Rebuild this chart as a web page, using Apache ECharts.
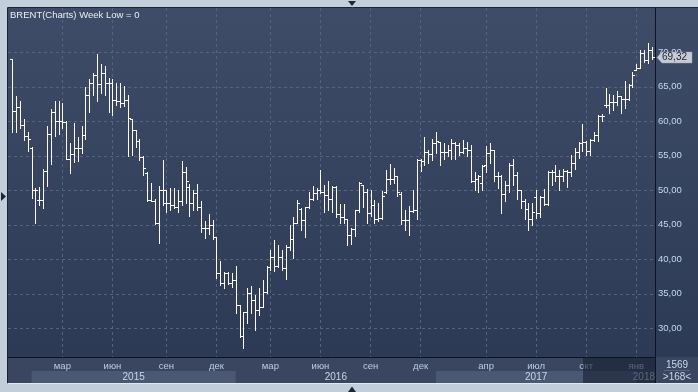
<!DOCTYPE html>
<html><head><meta charset="utf-8">
<script src="https://cdn.jsdelivr.net/npm/echarts@6/dist/echarts.min.js"></script>
<style>html,body{margin:0;padding:0;background:#c3cedb;}#c{width:698px;height:392px;}</style>
</head><body><div id="c"></div>
<script>
const title = 'BRENT(Charts) Week Low = 0';
const weeks = ['2014-12-08','2014-12-15','2014-12-22','2014-12-29','2015-01-01','2015-01-05','2015-01-12','2015-01-19','2015-01-26','2015-02-02','2015-02-09','2015-02-16','2015-02-23','2015-03-02','2015-03-09','2015-03-16','2015-03-23','2015-03-30','2015-04-06','2015-04-13','2015-04-20','2015-04-27','2015-05-04','2015-05-11','2015-05-18','2015-05-25','2015-06-01','2015-06-08','2015-06-15','2015-06-22','2015-06-29','2015-07-06','2015-07-13','2015-07-20','2015-07-27','2015-08-03','2015-08-10','2015-08-17','2015-08-24','2015-08-31','2015-09-07','2015-09-14','2015-09-21','2015-09-28','2015-10-05','2015-10-12','2015-10-19','2015-10-26','2015-11-02','2015-11-09','2015-11-16','2015-11-23','2015-11-30','2015-12-07','2015-12-14','2015-12-21','2015-12-28','2016-01-01','2016-01-04','2016-01-11','2016-01-18','2016-01-25','2016-02-01','2016-02-08','2016-02-15','2016-02-22','2016-02-29','2016-03-07','2016-03-14','2016-03-21','2016-03-28','2016-04-04','2016-04-11','2016-04-18','2016-04-25','2016-05-02','2016-05-09','2016-05-16','2016-05-23','2016-05-30','2016-06-06','2016-06-13','2016-06-20','2016-06-27','2016-07-04','2016-07-11','2016-07-18','2016-07-25','2016-08-01','2016-08-08','2016-08-15','2016-08-22','2016-08-29','2016-09-05','2016-09-12','2016-09-19','2016-09-26','2016-10-03','2016-10-10','2016-10-17','2016-10-24','2016-10-31','2016-11-07','2016-11-14','2016-11-21','2016-11-28','2016-12-05','2016-12-12','2016-12-19','2016-12-26','2017-01-02','2017-01-09','2017-01-16','2017-01-23','2017-01-30','2017-02-06','2017-02-13','2017-02-20','2017-02-27','2017-03-06','2017-03-13','2017-03-20','2017-03-27','2017-04-03','2017-04-10','2017-04-17','2017-04-24','2017-05-01','2017-05-08','2017-05-15','2017-05-22','2017-05-29','2017-06-05','2017-06-12','2017-06-19','2017-06-26','2017-07-03','2017-07-10','2017-07-17','2017-07-24','2017-07-31','2017-08-07','2017-08-14','2017-08-21','2017-08-28','2017-09-04','2017-09-11','2017-09-18','2017-09-25','2017-10-02','2017-10-09','2017-10-16','2017-10-23','2017-10-30','2017-11-06','2017-11-13','2017-11-20','2017-11-27','2017-12-04','2017-12-11','2017-12-18','2017-12-25','2018-01-01','2018-01-08','2018-01-15','2018-01-22','2018-01-29'];
const opens = [69.0,61.5,62.1,59.5,57.9,56.2,50.0,48.6,48.6,52.8,58.1,61.4,60.0,60.0,59.9,54.6,55.2,56.1,56.1,58.0,63.8,65.5,66.7,65.4,67.0,65.5,65.6,63.1,62.9,62.7,63.1,60.4,58.7,57.2,54.8,52.5,48.6,48.5,45.3,50.0,48.1,48.1,47.9,47.6,48.5,52.6,50.5,48.1,49.6,47.6,44.6,44.5,45.0,43.2,38.0,36.5,38.0,36.5,37.0,33.4,28.9,32.3,35.1,34.1,32.6,33.1,35.3,38.9,40.4,39.0,40.4,38.7,41.8,42.9,45.2,47.3,45.7,47.6,48.8,49.6,50.0,49.8,49.3,48.8,50.5,46.6,46.2,45.9,43.5,44.4,47.2,50.7,49.7,46.7,47.9,45.9,46.0,49.7,51.7,51.7,52.0,49.5,45.7,45.7,47.0,47.2,54.4,54.3,55.5,55.3,56.8,57.05,55.6,55.6,55.9,56.8,56.6,55.6,56.1,55.9,51.3,51.7,51.1,53.7,55.4,55.8,52.0,52.0,49.4,50.8,53.7,52.2,50.0,48.4,47.3,45.9,49.0,46.7,49.0,48.0,52.7,52.7,52.0,52.0,52.8,52.7,53.9,55.5,56.8,57.0,55.7,57.3,58.0,60.7,62.3,62.4,62.85,62.85,63.6,63.3,63.3,65.3,67.4,67.7,69.85,68.9,70.3];
const highs = [69.1,63.7,62.9,60.4,58.5,56.3,50.4,50.5,53.1,59.3,61.8,63.0,62.9,62.6,60.0,56.8,59.7,57.7,59.3,65.0,66.1,67.0,69.8,68.3,68.0,66.3,66.1,65.6,65.5,65.1,63.8,60.4,58.8,57.5,55.0,52.6,51.1,48.8,50.6,54.4,50.0,50.3,50.3,50.0,54.2,53.4,50.9,50.0,50.9,48.5,45.6,46.5,45.7,43.2,39.7,38.1,38.1,38.0,39.1,33.4,32.4,35.8,36.1,34.8,35.8,37.0,39.1,41.4,42.8,42.1,41.4,42.1,45.0,46.2,48.6,47.4,47.6,49.8,50.6,50.3,52.9,50.8,51.4,50.6,50.6,48.0,48.0,45.9,44.5,47.2,51.2,50.8,50.2,50.1,48.6,48.1,49.9,52.9,53.8,53.2,52.1,49.7,47.1,47.7,50.1,54.5,54.5,57.7,55.9,57.4,58.45,57.05,56.9,56.6,57.4,57.05,56.9,57.3,57.05,56.6,52.7,52.2,53.6,56.4,56.8,55.8,52.7,52.2,51.3,53.9,54.6,52.7,50.0,48.8,48.1,48.1,50.1,49.2,50.2,52.8,52.9,53.7,52.9,53.1,52.9,55.1,56.1,57.0,59.6,57.1,57.5,58.5,60.9,61.0,64.8,63.9,63.8,64.4,63.6,65.8,65.4,67.2,68.3,70.3,70.3,71.3,70.8];
const lows = [58.5,58.4,59.1,57.3,55.7,48.9,45.2,47.8,47.5,50.6,53.8,57.8,58.1,59.1,54.5,52.5,54.1,54.2,55.4,57.5,61.4,63.8,62.9,64.1,63.8,61.3,60.9,62.4,62.1,62.2,55.0,55.1,56.3,54.4,52.2,48.4,48.4,45.1,42.3,47.9,46.8,47.1,47.4,46.9,47.9,48.2,46.3,47.1,47.1,43.9,43.1,43.7,43.0,37.3,36.3,35.9,36.4,36.0,32.2,28.8,27.1,30.7,32.2,29.8,31.9,33.1,35.1,38.5,38.3,38.9,38.5,37.2,41.4,40.2,45.2,44.3,43.3,47.4,48.6,48.7,49.6,46.9,47.2,46.9,46.2,45.2,45.2,42.1,42.2,43.4,46.9,47.6,45.2,46.3,45.2,45.5,45.9,49.6,50.9,51.1,49.2,45.1,44.3,43.5,46.8,45.9,52.85,53.7,53.9,54.4,55.4,53.7,54.6,54.9,54.6,54.5,55.1,55.4,55.0,51.25,50.0,49.8,50.0,52.7,53.9,51.3,50.3,46.7,48.4,49.8,50.8,48.8,47.4,45.9,44.3,45.0,46.0,46.2,47.8,47.9,50.8,51.3,50.0,51.3,50.5,52.0,53.1,54.7,55.7,55.1,55.1,57.2,57.1,60.0,62.0,61.15,61.6,62.3,61.2,61.9,63.1,65.0,67.4,67.7,68.6,68.4,69.1];
const closes = [61.5,62.1,59.5,57.9,57.5,50.0,50.0,48.6,52.8,58.1,61.4,60.0,60.0,59.9,54.6,55.2,56.1,56.1,58.0,63.8,65.5,66.7,65.4,67.0,65.5,65.6,63.1,62.9,62.7,63.1,60.5,58.7,57.2,54.8,53.3,48.6,48.5,45.3,50.0,50.0,48.1,47.9,47.6,48.5,52.6,51.3,48.1,49.6,47.6,44.6,44.5,45.0,43.2,38.0,36.5,38.0,36.5,37.0,33.4,28.9,32.3,35.1,34.1,32.6,33.1,35.3,38.9,40.4,39.0,40.4,38.7,41.8,42.9,45.2,48.1,45.7,47.6,48.8,49.6,50.0,49.8,49.3,48.8,50.5,46.6,46.2,45.9,43.5,44.4,47.2,51.1,49.7,46.7,47.9,45.9,46.0,49.2,51.7,51.7,52.0,49.7,45.7,45.7,47.0,47.2,54.4,54.3,55.5,55.3,56.8,57.2,55.6,55.6,55.9,56.8,56.6,55.6,56.1,55.9,51.3,51.7,52.0,53.5,55.4,55.8,52.0,52.0,49.4,50.8,53.7,52.2,50.0,48.4,47.3,45.9,46.9,46.7,49.0,48.0,52.7,52.7,52.0,52.0,52.8,52.7,53.9,55.5,56.8,57.0,55.7,57.3,58.0,60.7,60.7,62.4,62.85,62.85,63.6,63.3,63.3,65.3,66.7,67.7,69.85,68.9,70.3,69.32];
const monthTickWeeks = ['2015-03-02','2015-06-01','2015-09-07','2015-12-07','2016-03-07','2016-06-06','2016-09-05','2016-12-05','2017-04-03','2017-07-03','2017-10-02','2018-01-01'];
const monthTickLabels = ['мар','июн','сен','дек','мар','июн','сен','дек','апр','июл','окт','янв'];
const yearStartWeeks = ['2015-01-05','2016-01-04','2017-01-02','2018-01-01'];
const yearLabels = ['2015','2016','2017','2018'];
const priceTicks = [30,35,40,45,50,55,60,65,70];
const lastPrice = 69.32;
const barTotal = '1569';
const barVisible = '>168<';

const monthTickIdx = monthTickWeeks.map(w => weeks.indexOf(w));
const data = weeks.map((w, i) => [i, opens[i], highs[i], lows[i], closes[i]]);
const FONT = 'Liberation Sans';
const fmtPrice = v => v.toFixed(2).replace('.', ',');

const chart = echarts.init(document.getElementById('c'), null, {renderer: 'canvas'});
const gridLine = {show: true, lineStyle: {color: '#55637e', width: 1, type: [3, 3]}};

chart.setOption({
  animation: false,
  backgroundColor: '#c3cedb',
  grid: {left: 8, top: 8, width: 647, height: 349, containLabel: false},
  xAxis: {
    type: 'value', min: -1.115, max: 166.85,
    axisLine: {show: false},
    axisTick: {show: false, customValues: monthTickIdx},
    axisLabel: {
      customValues: monthTickIdx, margin: 4, color: '#bccde6', fontSize: 9.5, fontFamily: FONT,
      formatter: v => monthTickLabels[monthTickIdx.indexOf(v)] || ''
    },
    splitLine: gridLine
  },
  yAxis: {
    type: 'value', position: 'right', min: 25.84, max: 76.42, scale: true,
    axisLine: {show: false},
    axisTick: {show: false, customValues: priceTicks},
    axisLabel: {customValues: priceTicks, margin: 3, color: '#c4d8f2', fontSize: 9.5, fontFamily: FONT,
      formatter: v => fmtPrice(v)},
    splitLine: gridLine
  },
  series: [{
    type: 'custom', clip: true, silent: true,
    encode: {x: 0, y: [1, 2, 3, 4]},
    data: data,
    renderItem: function (params, api) {
      const i = api.value(0);
      const pO = api.coord([i, api.value(1)]);
      const pH = api.coord([i, api.value(2)]);
      const pL = api.coord([i, api.value(3)]);
      const pC = api.coord([i, api.value(4)]);
      const x = Math.round(pH[0]) + 0.5;
      const st = {stroke: '#fffaf6', lineWidth: 1};
      const yo = Math.round(pO[1]) + 0.5, yc = Math.round(pC[1]) + 0.5;
      return {type: 'group', children: [
        {type: 'line', shape: {x1: x, y1: Math.round(pH[1]), x2: x, y2: Math.round(pL[1]) + 1}, style: st},
        {type: 'line', shape: {x1: x - 2.5, y1: yo, x2: x - 0.5, y2: yo}, style: st},
        {type: 'line', shape: {x1: x + 0.5, y1: yc, x2: x + 2.5, y2: yc}, style: st}
      ]};
    }
  }]
});

const px = i => chart.convertToPixel({xAxisIndex: 0}, i);
const py = v => chart.convertToPixel({yAxisIndex: 0}, v);
const yearX = yearStartWeeks.map(w => px(weeks.indexOf(w)));
const g = [];
const back = {z: -10, silent: true};
const front = {z: 100, silent: true};
// plot + right panel background
g.push(Object.assign({type: 'rect', shape: {x: 8, y: 8, width: 690, height: 349},
  style: {fill: new echarts.graphic.LinearGradient(0, 0, 0, 1, [{offset: 0, color: '#3f4c67'}, {offset: 1, color: '#2d3a56'}])}}, back));
// axis area
g.push(Object.assign({type: 'rect', shape: {x: 8, y: 357, width: 690, height: 26}, style: {fill: '#3a4660'}}, back));
// year bands (alternating)
for (let k = 0; k < yearX.length; k++) {
  const x0 = yearX[k], x1 = k + 1 < yearX.length ? yearX[k + 1] : 655;
  if (k % 2 === 0) {
    g.push(Object.assign({type: 'rect', shape: {x: x0, y: 371, width: Math.min(x1, 655) - x0, height: 12}, style: {fill: '#4b5873'}}, back));
  }
  const last = k === yearX.length - 1;
  g.push(Object.assign({type: 'text', x: last ? 655 : (x0 + x1) / 2, y: 377,
    style: {text: yearLabels[k], fill: '#c8d6ea', font: '10px ' + FONT, align: last ? 'right' : 'center', verticalAlign: 'middle'}}, front));
}
// darker overlay (scroll region) on the axis area
g.push(Object.assign({type: 'rect', shape: {x: 583, y: 357, width: 72, height: 26}, style: {fill: 'rgba(22,30,48,0.6)'}}, {z: 101, silent: true}));
// frame lines
const line = (x1, y1, x2, y2, c) => Object.assign({type: 'line', shape: {x1, y1, x2, y2}, style: {stroke: c, lineWidth: 1}}, {z: 102, silent: true});
g.push(line(8, 357.5, 655, 357.5, '#0d1320'));
g.push(line(655.5, 8, 655.5, 383, '#0d1320'));
g.push(line(7.5, 7.5, 7.5, 383.5, '#1b2333'));
g.push(line(7.5, 7.5, 698, 7.5, '#1b2333'));
g.push(line(7.5, 383.5, 698, 383.5, '#e2e8ef'));
// title
g.push(Object.assign({type: 'text', x: 10, y: 15, style: {text: title, fill: '#e9eef6', font: '9.5px ' + FONT, verticalAlign: 'middle'}}, front));
// last price marker
const ly = Math.round(py(lastPrice)) + 0.5;
g.push(Object.assign({type: 'polygon', shape: {points: [[657, ly], [662, ly - 5.5], [692, ly - 5.5], [692, ly + 5.5], [662, ly + 5.5]]},
  style: {fill: '#c7cbd3', stroke: '#9aa3b2', lineWidth: 0.5}}, front));
g.push(Object.assign({type: 'text', x: 662, y: ly, style: {text: fmtPrice(lastPrice), fill: '#1c2535', font: '10px ' + FONT, verticalAlign: 'middle'}}, {z: 103, silent: true}));
// bars count box
g.push(Object.assign({type: 'text', x: 677, y: 365, style: {text: barTotal, fill: '#c8d6ea', font: '10px ' + FONT, align: 'center', verticalAlign: 'middle'}}, front));
g.push(line(664, 370.5, 690, 370.5, '#56637c'));
g.push(Object.assign({type: 'text', x: 677, y: 377.5, style: {text: barVisible, fill: '#c8d6ea', font: '10px ' + FONT, align: 'center', verticalAlign: 'middle'}}, front));
// scroll arrows
g.push(Object.assign({type: 'polygon', shape: {points: [[348, 1], [356, 1], [352, 6]]}, style: {fill: '#1d2738'}}, front));
g.push(Object.assign({type: 'polygon', shape: {points: [[1, 192], [1, 201], [6, 196.5]]}, style: {fill: '#1d2738'}}, front));
g.push(Object.assign({type: 'polygon', shape: {points: [[348, 392], [356, 392], [352, 386.5]]}, style: {fill: '#1d2738'}}, front));
chart.setOption({graphic: g});
</script></body></html>
